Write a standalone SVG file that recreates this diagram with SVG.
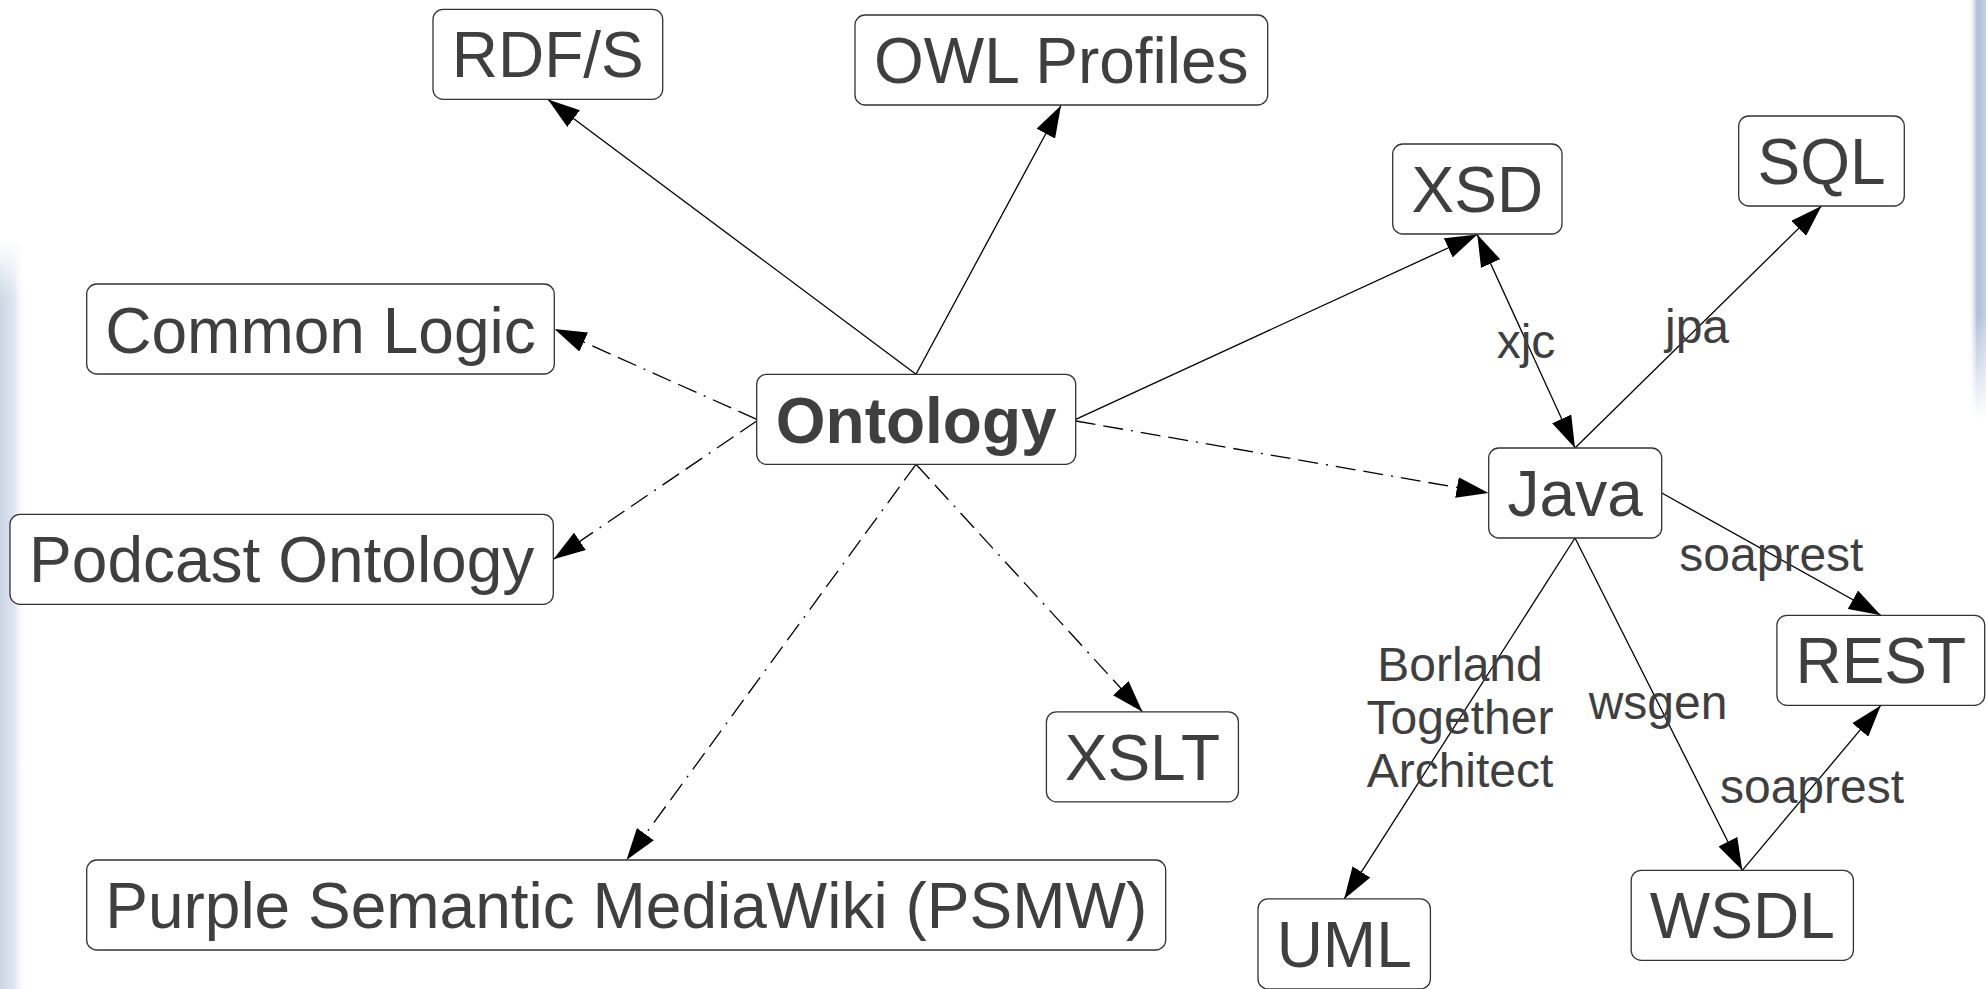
<svg xmlns="http://www.w3.org/2000/svg" width="1986" height="989" viewBox="0 0 1986 989">
<style>
.box{fill:#ffffff;stroke:#333333;stroke-width:1.3}
.nt{font-family:"Liberation Sans",Arial,sans-serif;font-size:64px;fill:#3f3f3f;text-anchor:middle}
.bold{font-weight:bold}
.lbl{font-family:"Liberation Sans",Arial,sans-serif;font-size:48px;fill:#3f3f3f;text-anchor:middle}
.ln{stroke:#000000;stroke-width:1.3;fill:none}
.solid{marker-end:url(#arr)}
.dash{stroke-dasharray:20 8 20 8 2 8;marker-end:url(#arr)}
</style>
<defs>
<marker id="arr" viewBox="0 0 32 21" markerWidth="32" markerHeight="21" refX="32" refY="10.5" orient="auto" markerUnits="userSpaceOnUse">
<path d="M0,0 L32,10.5 L0,21 Z" fill="#000000" stroke="none"/>
</marker>
<marker id="arrs" viewBox="0 0 32 21" markerWidth="32" markerHeight="21" refX="32" refY="10.5" orient="auto-start-reverse" markerUnits="userSpaceOnUse">
<path d="M0,0 L32,10.5 L0,21 Z" fill="#000000" stroke="none"/>
</marker>
<linearGradient id="lg" x1="0" y1="0" x2="1" y2="0">
<stop offset="0" stop-color="#cdd6e6"/>
<stop offset="0.55" stop-color="#dfe5ef"/>
<stop offset="1" stop-color="#ffffff" stop-opacity="0"/>
</linearGradient>
<linearGradient id="lgv" x1="0" y1="0" x2="0" y2="1">
<stop offset="0" stop-color="#ffffff" stop-opacity="0"/>
<stop offset="0.08" stop-color="#ffffff" stop-opacity="1"/>
<stop offset="1" stop-color="#ffffff" stop-opacity="1"/>
</linearGradient>
<linearGradient id="rg" x1="1" y1="0" x2="0" y2="0">
<stop offset="0" stop-color="#c4d0e4"/>
<stop offset="0.5" stop-color="#aebfdb"/>
<stop offset="1" stop-color="#ffffff" stop-opacity="0"/>
</linearGradient>
<linearGradient id="rgv" x1="0" y1="0" x2="0" y2="1">
<stop offset="0" stop-color="#ffffff" stop-opacity="1"/>
<stop offset="0.75" stop-color="#ffffff" stop-opacity="1"/>
<stop offset="1" stop-color="#ffffff" stop-opacity="0"/>
</linearGradient>
<mask id="lm"><rect x="0" y="240" width="30" height="749" fill="url(#lgv)"/></mask>
<mask id="rm"><rect x="1966" y="0" width="20" height="420" fill="url(#rgv)"/></mask>
</defs>
<rect x="0" y="0" width="1986" height="989" fill="#ffffff"/>
<g id="background">
<rect x="0" y="240" width="26" height="749" fill="url(#lg)" mask="url(#lm)"/>
<rect x="1968" y="0" width="18" height="420" fill="url(#rg)" mask="url(#rm)"/>
</g>
<g id="connectors">
<line class="ln solid" x1="916" y1="374.3" x2="548" y2="99.5"/>
<line class="ln solid" x1="916" y1="374.3" x2="1061" y2="105.5"/>
<line class="ln solid" x1="1075.7" y1="419.3" x2="1477.3" y2="234.5"/>
<line class="ln dash" x1="1075.7" y1="421" x2="1488.5" y2="493"/>
<line class="ln dash" x1="756.7" y1="419.3" x2="554.5" y2="329"/>
<line class="ln dash" x1="756.7" y1="421" x2="553.5" y2="559.3"/>
<line class="ln dash" x1="916" y1="464.3" x2="626.5" y2="860"/>
<line class="ln dash" x1="916" y1="464.3" x2="1142.4" y2="711.8"/>
<line class="ln" x1="1477.3" y1="234.5" x2="1575" y2="448" marker-start="url(#arrs)" marker-end="url(#arr)"/>
<line class="ln solid" x1="1575" y1="448" x2="1821.5" y2="206"/>
<line class="ln solid" x1="1661.8" y1="493" x2="1880.8" y2="615.3"/>
<line class="ln solid" x1="1575" y1="538" x2="1344.2" y2="898.9"/>
<line class="ln solid" x1="1575" y1="538" x2="1742.3" y2="870.3"/>
<line class="ln solid" x1="1742.3" y1="870.3" x2="1880.8" y2="705.4"/>
<text class="lbl" x="1526" y="357.5">xjc</text>
<text class="lbl" x="1697" y="343.3">jpa</text>
<text class="lbl" x="1771.4" y="571">soaprest</text>
<text class="lbl" x="1460" y="681">Borland</text>
<text class="lbl" x="1460" y="734">Together</text>
<text class="lbl" x="1460" y="787">Architect</text>
<text class="lbl" x="1658" y="719">wsgen</text>
<text class="lbl" x="1812" y="803">soaprest</text>
</g>
<g id="node-rdfs"><rect class="box" x="433" y="9.3" width="229.7" height="90" rx="10"/><text class="nt" x="547.8" y="77.3">RDF/S</text></g>
<g id="node-owl"><rect class="box" x="855" y="15" width="412.7" height="90" rx="10"/><text class="nt" x="1061.3" y="83">OWL Profiles</text></g>
<g id="node-xsd"><rect class="box" x="1392.7" y="144" width="169.3" height="90" rx="10"/><text class="nt" x="1477.3" y="212">XSD</text></g>
<g id="node-sql"><rect class="box" x="1738.7" y="116" width="165.6" height="90" rx="10"/><text class="nt" x="1821.5" y="184">SQL</text></g>
<g id="node-commonlogic"><rect class="box" x="86.7" y="284" width="467.6" height="90" rx="10"/><text class="nt" x="320.5" y="352.5">Common Logic</text></g>
<g id="node-ontology"><rect class="box" x="756.7" y="374.3" width="319" height="90" rx="10"/><text class="nt bold" x="916.2" y="442.5">Ontology</text></g>
<g id="node-java"><rect class="box" x="1488.7" y="448" width="173" height="90" rx="10"/><text class="nt" x="1575.2" y="516">Java</text></g>
<g id="node-podcast"><rect class="box" x="10" y="514.3" width="543.3" height="90" rx="10"/><text class="nt" x="281.7" y="582">Podcast Ontology</text></g>
<g id="node-rest"><rect class="box" x="1776.9" y="615.3" width="207.8" height="90" rx="10"/><text class="nt" x="1880.8" y="683">REST</text></g>
<g id="node-xslt"><rect class="box" x="1046.4" y="711.8" width="192" height="90" rx="10"/><text class="nt" x="1142.4" y="780">XSLT</text></g>
<g id="node-psmw"><rect class="box" x="86.7" y="860" width="1079" height="90" rx="10"/><text class="nt" x="626.2" y="928">Purple Semantic MediaWiki (PSMW)</text></g>
<g id="node-uml"><rect class="box" x="1258" y="898.9" width="172.4" height="90" rx="10"/><text class="nt" x="1344.2" y="967">UML</text></g>
<g id="node-wsdl"><rect class="box" x="1631.2" y="870.3" width="222.2" height="90" rx="10"/><text class="nt" x="1742.3" y="938">WSDL</text></g>
</svg>
